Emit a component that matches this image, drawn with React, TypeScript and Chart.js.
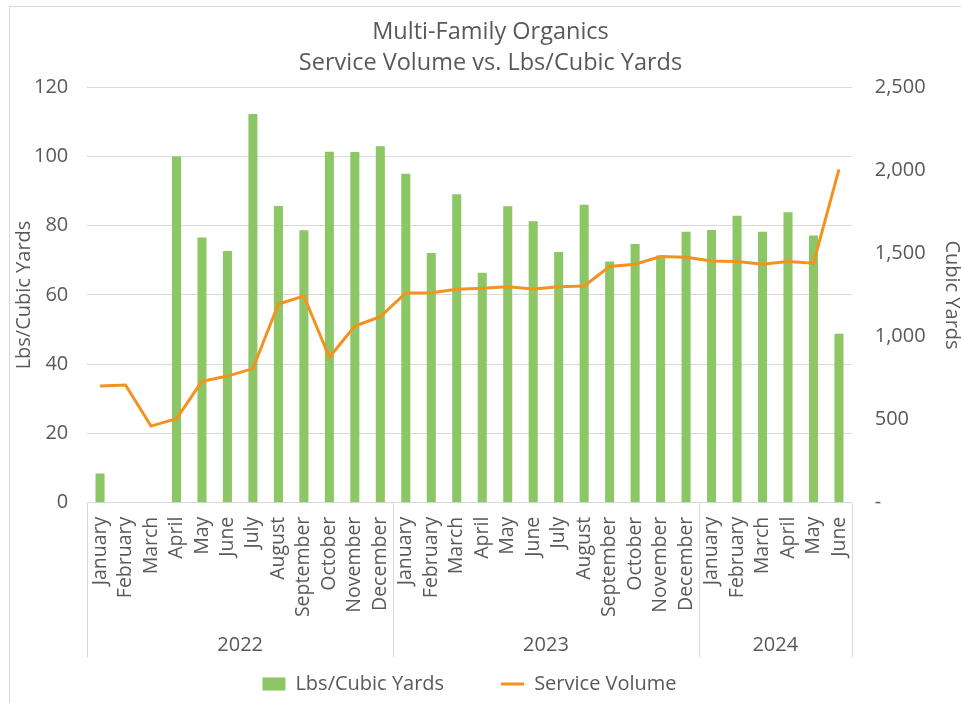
import React, { useEffect, useRef } from "react";
import { Chart, registerables } from "chart.js";

Chart.register(...registerables);

const months = [
  "January", "February", "March", "April", "May", "June", "July", "August", "September", "October", "November", "December",
  "January", "February", "March", "April", "May", "June", "July", "August", "September", "October", "November", "December",
  "January", "February", "March", "April", "May", "June",
];
const years = ["2022", "2023", "2024"];
const yearSpans = [12, 12, 6];

const lbsPerCubicYard: (number | null)[] = [
  8.4, null, null, 100.0, 76.6, 72.7, 112.3, 85.7, 78.7, 101.4, 101.3, 103.0,
  95.0, 72.1, 89.1, 66.4, 85.6, 81.3, 72.4, 86.1, 69.7, 74.7, 71.4, 78.3,
  78.8, 82.9, 78.3, 83.9, 77.2, 48.8,
];
const serviceVolume = [
  702, 708, 461, 506, 730, 762, 807, 1196, 1244, 875, 1063, 1120,
  1262, 1264, 1284, 1290, 1300, 1286, 1300, 1304, 1421, 1435, 1481, 1477,
  1455, 1451, 1435, 1451, 1441, 2006,
];
const leftTicks = { min: 0, max: 120, step: 20 };
const rightTicks = { min: 0, max: 2500, step: 500 };

const TEXT = "#595959";
const GRID = "#D9D9D9";
const GREEN = "#8CC665";
const ORANGE = "#F4921F";
const FONT = "'Open Sans', sans-serif";

const yearPlugin = {
  id: "yearGroups",
  afterDraw(chart: any) {
    const xs = chart.scales.x;
    const { ctx, chartArea } = chart;
    const top = chartArea.bottom;
    const bottom = top + 154.3;
    const n = months.length;
    const half = (xs.getPixelForValue(1) - xs.getPixelForValue(0)) / 2;
    const edge = (i: number) => (i < n ? xs.getPixelForValue(i) - half : xs.getPixelForValue(n - 1) + half);
    ctx.save();
    ctx.strokeStyle = GRID;
    ctx.lineWidth = 1;
    let start = 0;
    const edges = [0];
    yearSpans.forEach((s) => { start += s; edges.push(start); });
    edges.forEach((e) => {
      const px = Math.round(edge(e)) + 0.5;
      ctx.beginPath();
      ctx.moveTo(px, top);
      ctx.lineTo(px, bottom);
      ctx.stroke();
    });
    ctx.fillStyle = TEXT;
    ctx.font = `20px ${FONT}`;
    ctx.textAlign = "center";
    ctx.textBaseline = "middle";
    years.forEach((y, i) => {
      const cx = (edge(edges[i]) + edge(edges[i + 1])) / 2;
      ctx.fillText(y, cx, top + 142.3);
    });
    ctx.restore();
  },
};

export default function App() {
  const ref = useRef<HTMLCanvasElement>(null);
  useEffect(() => {
    const chart = new Chart(ref.current as HTMLCanvasElement, {
      type: "bar",
      data: {
        labels: months,
        datasets: [
          {
            type: "bar",
            label: "Lbs/Cubic Yards",
            data: lbsPerCubicYard,
            backgroundColor: GREEN,
            borderWidth: 0,
            yAxisID: "y",
            order: 1,
            barPercentage: 0.355,
            categoryPercentage: 1,
            pointStyle: "rect",
          } as any,
          {
            type: "line",
            label: "Service Volume",
            data: serviceVolume,
            borderColor: ORANGE,
            backgroundColor: ORANGE,
            borderWidth: 3,
            pointRadius: 0,
            tension: 0,
            yAxisID: "y1",
            order: 0,
            pointStyle: "line",
          } as any,
        ],
      },
      options: {
        responsive: false,
        animation: false,
        layout: { padding: { left: 20, right: 0, top: 0, bottom: -1 } },
        plugins: {
          title: {
            display: true,
            text: ["Multi-Family Organics", "Service Volume vs. Lbs/Cubic Yards"],
            color: TEXT,
            font: { family: FONT, size: 23.5, weight: "normal", lineHeight: 1.306 },
            padding: { top: 17.2, bottom: 8.7 },
          },
          legend: {
            position: "bottom",
            fullSize: false,
            labels: {
              usePointStyle: true,
              pointStyleWidth: 23,
              boxHeight: 13,
              padding: 57,
              color: TEXT,
              font: { family: FONT, size: 20 },
              sort: (a: any, b: any) => a.datasetIndex - b.datasetIndex,
            },
          },
          tooltip: { enabled: false },
        },
        scales: {
          x: {
            grid: { display: false, drawTicks: false },
            border: { display: false },
            ticks: {
              autoSkip: false,
              maxRotation: 90,
              minRotation: 90,
              padding: 14,
              color: TEXT,
              font: { family: FONT, size: 19.5 },
            },
            afterFit: (s: any) => { s.height = 114.3; },
          },
          y: {
            position: "left",
            min: leftTicks.min,
            max: leftTicks.max,
            grid: { color: GRID, lineWidth: 1, drawTicks: false },
            border: { display: false },
            ticks: { stepSize: leftTicks.step, padding: 19, color: TEXT, font: { family: FONT, size: 20 } },
            title: {
              display: true,
              text: "Lbs/Cubic Yards",
              color: TEXT,
              font: { family: FONT, size: 20, lineHeight: 1 },
              padding: { top: -6, bottom: 0 },
            },
            afterFit: (s: any) => { s.width = 67.3; },
          },
          y1: {
            position: "right",
            min: rightTicks.min,
            max: rightTicks.max,
            grid: { display: false, drawTicks: false },
            border: { display: false },
            ticks: {
              stepSize: rightTicks.step,
              padding: 23,
              color: TEXT,
              font: { family: FONT, size: 20 },
              callback: (v: any) => (Number(v) === 0 ? "-" : Number(v).toLocaleString("en-US")),
            },
            title: {
              display: true,
              text: "Cubic Yards",
              color: TEXT,
              font: { family: FONT, size: 20, lineHeight: 1 },
              padding: { top: -0.5, bottom: 0 },
            },
            afterFit: (s: any) => { s.width = 109.3; },
          },
        },
      } as any,
      plugins: [yearPlugin],
    });
    return () => chart.destroy();
  }, []);
  return (
    <div style={{ position: "fixed", left: 0, top: 0, width: 961, height: 703, background: "#fff" }}>
      <div
        style={{
          position: "absolute", left: 9, top: 6, right: 0, bottom: 0,
          borderLeft: `1px solid ${GRID}`, borderTop: `1px solid ${GRID}`,
        }}
      />
      <canvas ref={ref} width={961} height={703} style={{ position: "absolute", left: 0, top: 0, width: 961, height: 703 }} />
    </div>
  );
}
